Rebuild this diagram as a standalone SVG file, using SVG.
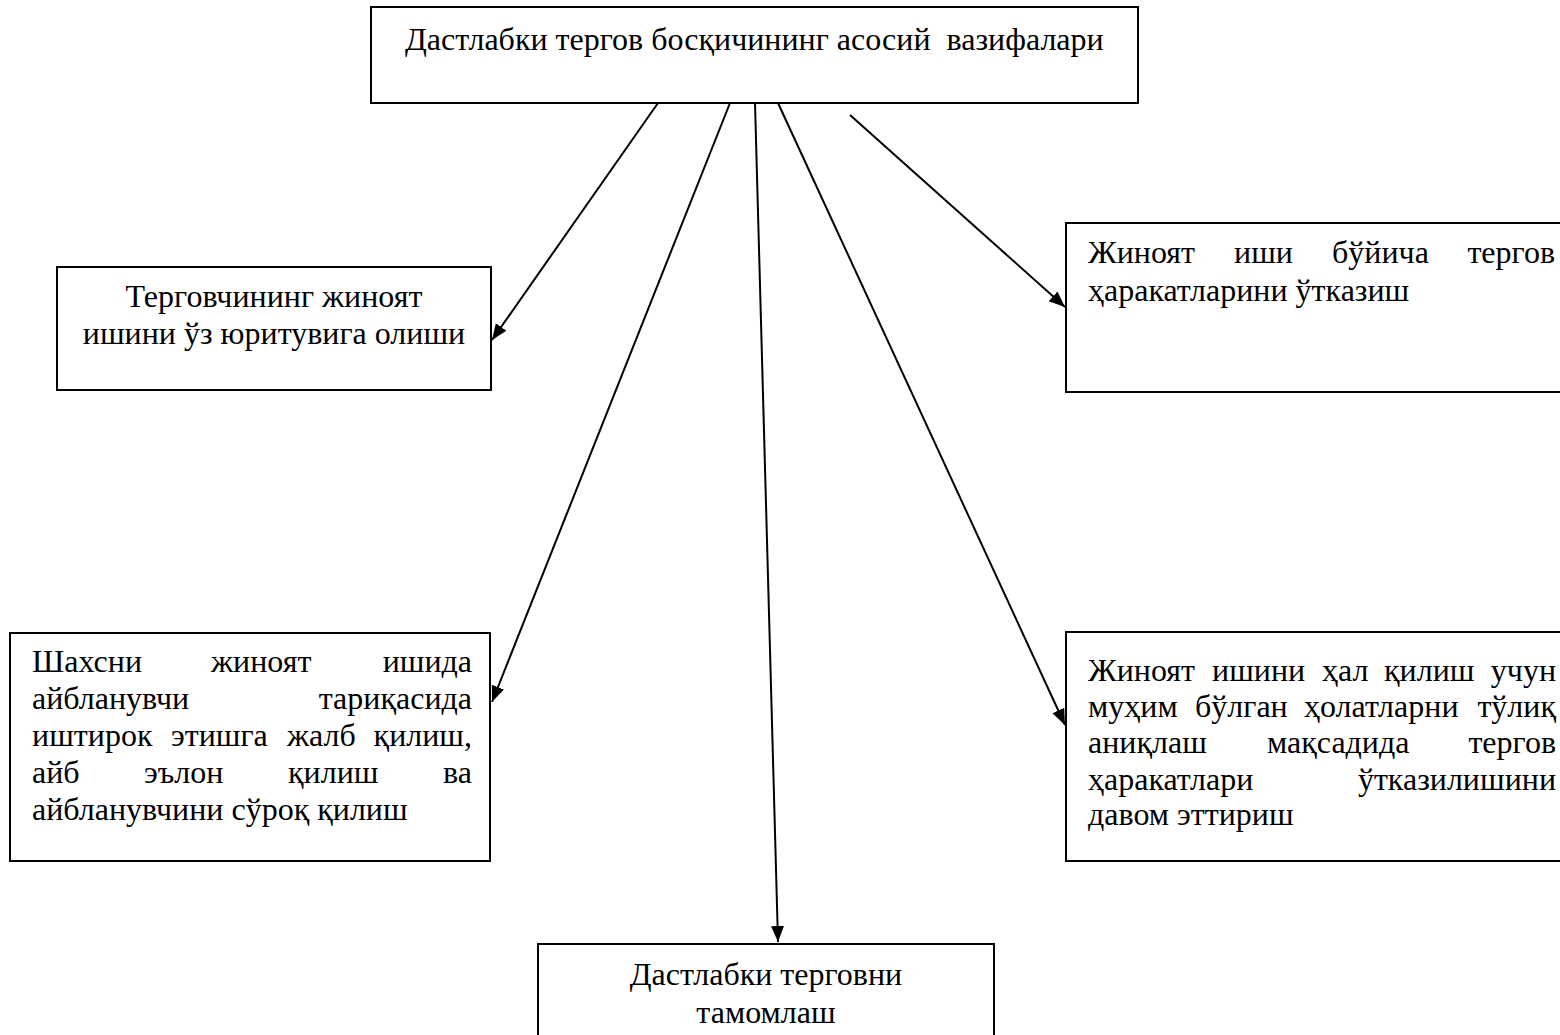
<svg xmlns="http://www.w3.org/2000/svg" width="1560" height="1035" viewBox="0 0 1560 1035">
<style>
.box{fill:#fff;stroke:#000;stroke-width:2}
.t{font-family:"Liberation Serif","DejaVu Serif",serif;font-size:32px;fill:#000}
.c{text-anchor:middle}
.e{text-anchor:end}
.conn line{stroke:#000;stroke-width:2;marker-end:url(#ah)}
</style>
<defs>
<marker id="ah" markerUnits="userSpaceOnUse" markerWidth="17" markerHeight="14" refX="16" refY="7" orient="auto">
<path d="M0,0.5 L16,7 L0,13.5 z" fill="#000"/>
</marker>
</defs>
<rect width="1560" height="1035" fill="#fff"/>
<g id="n_top">
<rect class="box" x="371" y="7" width="767" height="96"/>
<text class="t" x="405" y="50" xml:space="preserve">Дастлабки тергов босқичининг асосий  вазифалари</text>
</g>
<g id="n_left1">
<rect class="box" x="57" y="267" width="434" height="123"/>
<text class="t c" x="274" y="307">Терговчининг жиноят</text>
<text class="t c" x="274" y="344">ишини ўз юритувига олиши</text>
</g>
<g id="n_right1">
<rect class="box" x="1066" y="223" width="500" height="169"/>
<text class="t" y="263"><tspan x="1088">Жиноят</tspan><tspan x="1234">иши</tspan><tspan x="1332">бўйича</tspan></text>
<text class="t e" x="1555" y="263">тергов</text>
<text class="t" x="1088" y="301">ҳаракатларини ўтказиш</text>
</g>
<g id="n_left2">
<rect class="box" x="10" y="633" width="480" height="228"/>
<text class="t" y="672"><tspan x="32">Шахсни</tspan><tspan x="211">жиноят</tspan></text>
<text class="t e" x="472" y="672">ишида</text>
<text class="t" x="32" y="709">айбланувчи</text>
<text class="t e" x="472" y="709">тариқасида</text>
<text class="t" y="746"><tspan x="32">иштирок</tspan><tspan x="171">этишга</tspan><tspan x="287">жалб</tspan></text>
<text class="t e" x="472" y="746">қилиш,</text>
<text class="t" y="783"><tspan x="32">айб</tspan><tspan x="144">эълон</tspan><tspan x="288">қилиш</tspan></text>
<text class="t e" x="472" y="783">ва</text>
<text class="t" x="32" y="820">айбланувчини сўроқ қилиш</text>
</g>
<g id="n_right2">
<rect class="box" x="1066" y="632" width="500" height="229"/>
<text class="t" y="681"><tspan x="1088">Жиноят</tspan><tspan x="1212">ишини</tspan><tspan x="1322">ҳал</tspan><tspan x="1384">қилиш</tspan></text>
<text class="t e" x="1556" y="681">учун</text>
<text class="t" y="717"><tspan x="1088">муҳим</tspan><tspan x="1195">бўлган</tspan><tspan x="1304">ҳолатларни</tspan></text>
<text class="t e" x="1556" y="717">тўлиқ</text>
<text class="t" y="753"><tspan x="1088">аниқлаш</tspan><tspan x="1267">мақсадида</tspan></text>
<text class="t e" x="1556" y="753">тергов</text>
<text class="t" x="1088" y="790">ҳаракатлари</text>
<text class="t e" x="1556" y="790">ўтказилишини</text>
<text class="t" x="1088" y="825">давом эттириш</text>
</g>
<g id="n_bottom">
<rect class="box" x="538" y="944" width="456" height="100"/>
<text class="t c" x="766" y="985">Дастлабки терговни</text>
<text class="t c" x="766" y="1023">тамомлаш</text>
</g>
<g id="connectors" class="conn">
<line x1="658" y1="103" x2="492" y2="340"/>
<line x1="730" y1="103" x2="492" y2="702"/>
<line x1="755" y1="103" x2="778" y2="942"/>
<line x1="778" y1="103" x2="1065" y2="725"/>
<line x1="850" y1="115" x2="1065" y2="307"/>
</g>
</svg>
